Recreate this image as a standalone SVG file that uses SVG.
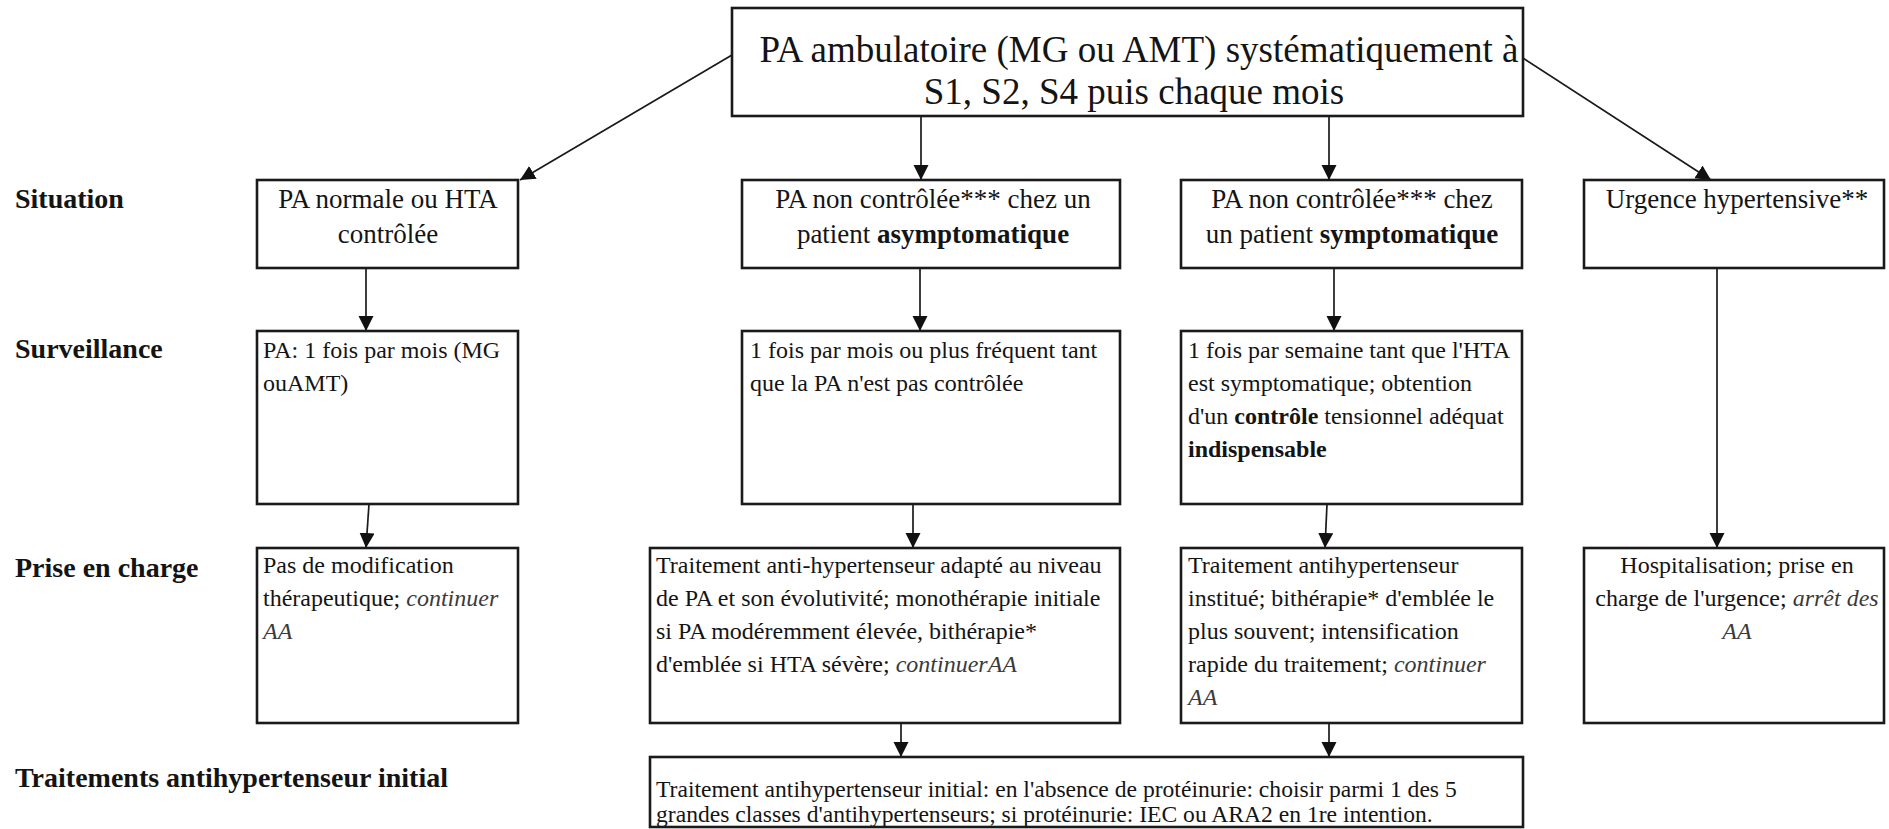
<svg xmlns="http://www.w3.org/2000/svg" width="1889" height="829" viewBox="0 0 1889 829">
  <defs>
    <marker id="arrow" markerUnits="userSpaceOnUse" markerWidth="16" markerHeight="16" refX="15" refY="7.5" orient="auto">
      <path d="M0,0 L15,7.5 L0,15 z" fill="#111"/>
    </marker>
    <style>
      .box { fill: #fff; stroke: #1a1a1a; stroke-width: 2.6; }
      .edge { fill: none; stroke: #1a1a1a; stroke-width: 1.7; marker-end: url(#arrow); }
      text { font-family: "Liberation Serif", "Times New Roman", serif; fill: #141414; }
      .label { font-size: 28px; font-weight: bold; }
      .title { font-size: 37px; text-anchor: middle; }
      .head { font-size: 27px; text-anchor: middle; }
      .body { font-size: 24px; }
      .small { font-size: 23.6px; }
      .mid { text-anchor: middle; }
      .b { font-weight: bold; }
      .i { font-style: italic; fill: #3a3a3a; }
    </style>
  </defs>
  <rect width="1889" height="829" fill="#fff"/>

  <!-- row labels -->
  <g id="labels">
    <text class="label" x="15" y="208">Situation</text>
    <text class="label" x="15" y="358">Surveillance</text>
    <text class="label" x="15" y="577">Prise en charge</text>
    <text class="label" x="15" y="787">Traitements antihypertenseur initial</text>
  </g>

  <!-- connectors -->
  <g id="connectors">
    <path class="edge" d="M732,55 L520,180"/>
    <path class="edge" d="M921,116 L921,180"/>
    <path class="edge" d="M1329,116 L1329,180"/>
    <path class="edge" d="M1523,58 L1711,180"/>
    <path class="edge" d="M366,268 L366,331"/>
    <path class="edge" d="M920,268 L920,331"/>
    <path class="edge" d="M1334,268 L1334,331"/>
    <path class="edge" d="M1717,262 L1717,548"/>
    <path class="edge" d="M369,504 L366,548"/>
    <path class="edge" d="M913,504 L913,548"/>
    <path class="edge" d="M1327,504 L1325,548"/>
    <path class="edge" d="M901,723 L901,757"/>
    <path class="edge" d="M1329,723 L1329,757"/>
  </g>

  <!-- top node -->
  <g id="n-pa-ambulatoire">
    <rect class="box" x="732" y="8" width="791" height="108"/>
    <text class="title" x="1139" y="62">PA ambulatoire (MG ou AMT) systématiquement à</text>
    <text class="title" x="1134" y="104">S1, S2, S4 puis chaque mois</text>
  </g>

  <!-- situation row -->
  <g id="n-pa-normale">
    <rect class="box" x="257" y="180" width="261" height="88"/>
    <text class="head" x="388" y="208">PA normale ou HTA</text>
    <text class="head" x="388" y="243">contrôlée</text>
  </g>
  <g id="n-non-controlee-asympto">
    <rect class="box" x="742" y="180" width="378" height="88"/>
    <text class="head" x="933" y="208">PA non contrôlée*** chez un</text>
    <text class="head" x="933" y="243">patient <tspan class="b">asymptomatique</tspan></text>
  </g>
  <g id="n-non-controlee-sympto">
    <rect class="box" x="1181" y="180" width="341" height="88"/>
    <text class="head" x="1352" y="208">PA non contrôlée*** chez</text>
    <text class="head" x="1352" y="243">un patient <tspan class="b">symptomatique</tspan></text>
  </g>
  <g id="n-urgence">
    <rect class="box" x="1584" y="180" width="300" height="88"/>
    <text class="head" x="1737" y="208">Urgence hypertensive**</text>
  </g>

  <!-- surveillance row -->
  <g id="n-surv-normale">
    <rect class="box" x="257" y="331" width="261" height="173"/>
    <text class="body" x="263" y="358">PA: 1 fois par mois (MG</text>
    <text class="body" x="263" y="391">ouAMT)</text>
  </g>
  <g id="n-surv-asympto">
    <rect class="box" x="742" y="331" width="378" height="173"/>
    <text class="body" x="750" y="358">1 fois par mois ou plus fréquent tant</text>
    <text class="body" x="750" y="391">que la PA n'est pas contrôlée</text>
  </g>
  <g id="n-surv-sympto">
    <rect class="box" x="1181" y="331" width="341" height="173"/>
    <text class="body" x="1188" y="358">1 fois par semaine tant que l'HTA</text>
    <text class="body" x="1188" y="391">est symptomatique; obtention</text>
    <text class="body" x="1188" y="424">d'un <tspan class="b">contrôle</tspan> tensionnel adéquat</text>
    <text class="body b" x="1188" y="457">indispensable</text>
  </g>

  <!-- prise en charge row -->
  <g id="n-pec-normale">
    <rect class="box" x="257" y="548" width="261" height="175"/>
    <text class="body" x="263" y="573">Pas de modification</text>
    <text class="body" x="263" y="606">thérapeutique; <tspan class="i">continuer</tspan></text>
    <text class="body i" x="263" y="639">AA</text>
  </g>
  <g id="n-pec-asympto">
    <rect class="box" x="650" y="548" width="470" height="175"/>
    <text class="body" x="656" y="573">Traitement anti-hypertenseur adapté au niveau</text>
    <text class="body" x="656" y="606">de PA et son évolutivité; monothérapie initiale</text>
    <text class="body" x="656" y="639">si PA modéremment élevée, bithérapie*</text>
    <text class="body" x="656" y="672">d'emblée si HTA sévère; <tspan class="i">continuerAA</tspan></text>
  </g>
  <g id="n-pec-sympto">
    <rect class="box" x="1181" y="548" width="341" height="175"/>
    <text class="body" x="1188" y="573">Traitement antihypertenseur</text>
    <text class="body" x="1188" y="606">institué; bithérapie* d'emblée le</text>
    <text class="body" x="1188" y="639">plus souvent; intensification</text>
    <text class="body" x="1188" y="672">rapide du traitement; <tspan class="i">continuer</tspan></text>
    <text class="body i" x="1188" y="705">AA</text>
  </g>
  <g id="n-pec-urgence">
    <rect class="box" x="1584" y="548" width="300" height="175"/>
    <text class="body mid" x="1737" y="573">Hospitalisation; prise en</text>
    <text class="body mid" x="1737" y="606">charge de l'urgence; <tspan class="i">arrêt des</tspan></text>
    <text class="body mid i" x="1737" y="639">AA</text>
  </g>

  <!-- initial treatment -->
  <g id="n-traitement-initial">
    <rect class="box" x="650" y="757" width="873" height="70"/>
    <text class="small" x="656" y="797">Traitement antihypertenseur initial: en l'absence de protéinurie: choisir parmi 1 des 5</text>
    <text class="small" x="656" y="822">grandes classes d'antihypertenseurs; si protéinurie: IEC ou ARA2 en 1re intention.</text>
  </g>
</svg>
